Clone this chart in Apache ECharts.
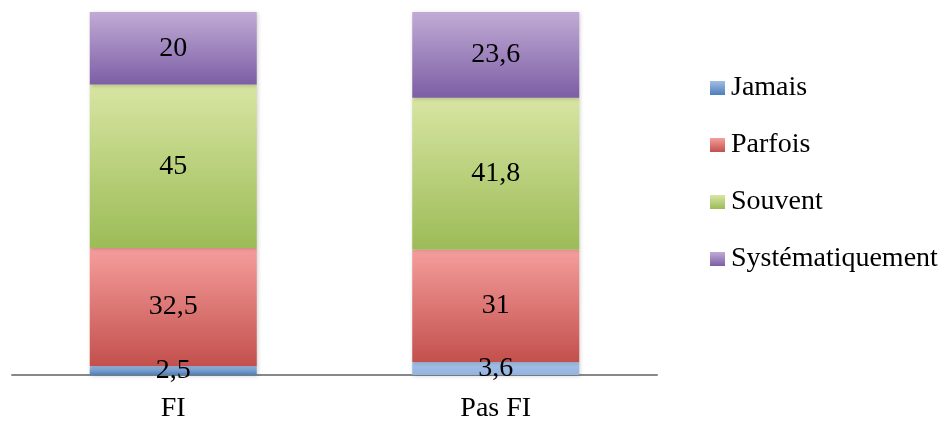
<!DOCTYPE html>
<html>
<head>
<meta charset="utf-8">
<script src="https://cdn.jsdelivr.net/npm/echarts@6/dist/echarts.min.js"></script>
<style>html,body{margin:0;padding:0;background:#fff}#c{width:948px;height:423px}</style>
</head>
<body>
<div id="c"></div>
<script>
var categories = ['FI', 'Pas FI'];
var seriesNames = ['Jamais', 'Parfois', 'Souvent', 'Systématiquement'];
var jamais = [2.5, 3.6];
var parfois = [32.5, 31];
var souvent = [45, 41.8];
var systematiquement = [20, 23.6];

function grad(top, bottom) {
  return new echarts.graphic.LinearGradient(0, 0, 0, 1, [
    {offset: 0, color: top}, {offset: 1, color: bottom}
  ]);
}
var FONT = 'Liberation Serif';
var FS = 28;
var colors = [
  grad('#a3bde3', '#4a7ebb'),
  grad('#f59e9c', '#c3504d'),
  grad('#d8e5a2', '#9cbc57'),
  grad('#c1abd5', '#7c5ea5')
];
var values = [jamais, parfois, souvent, systematiquement];

var series = seriesNames.map(function (name, i) {
  return {
    name: name,
    type: 'bar',
    stack: 'total',
    barWidth: 167,
    data: values[i].map(function (v, j) {
      var d = {value: v};
      if (i === 0 && j === 1) d.itemStyle = {color: grad('#a5c0e6', '#93b3e0')};
      return d;
    }),
    itemStyle: {
      color: colors[i],
      shadowColor: 'rgba(0,0,0,0.18)',
      shadowBlur: 4,
      shadowOffsetX: 1,
      shadowOffsetY: 1
    },
    label: {
      show: true,
      position: 'inside',
      color: '#000',
      fontFamily: FONT,
      fontSize: FS,
      formatter: function (p) { return String(p.value).replace('.', ','); }
    }
  };
});

var chart = echarts.init(document.getElementById('c'));
chart.setOption({
  animation: false,
  grid: {left: 12, right: 291, top: 12, bottom: 48},
  legend: {
    orient: 'vertical',
    left: 705,
    top: 69,
    itemWidth: 15,
    itemHeight: 14,
    itemGap: 29,
    icon: 'rect',
    data: seriesNames,
    textStyle: {fontFamily: FONT, fontSize: FS, color: '#000', lineHeight: 24, padding: [0, 0, 0, 1]}
  },
  xAxis: {
    type: 'category',
    data: categories,
    axisLine: {lineStyle: {color: '#888', width: 2}},
    axisTick: {show: false},
    axisLabel: {fontFamily: FONT, fontSize: FS, color: '#000', margin: 20}
  },
  yAxis: {
    type: 'value',
    min: 0,
    max: 100,
    show: false
  },
  series: series
});
</script>
</body>
</html>
